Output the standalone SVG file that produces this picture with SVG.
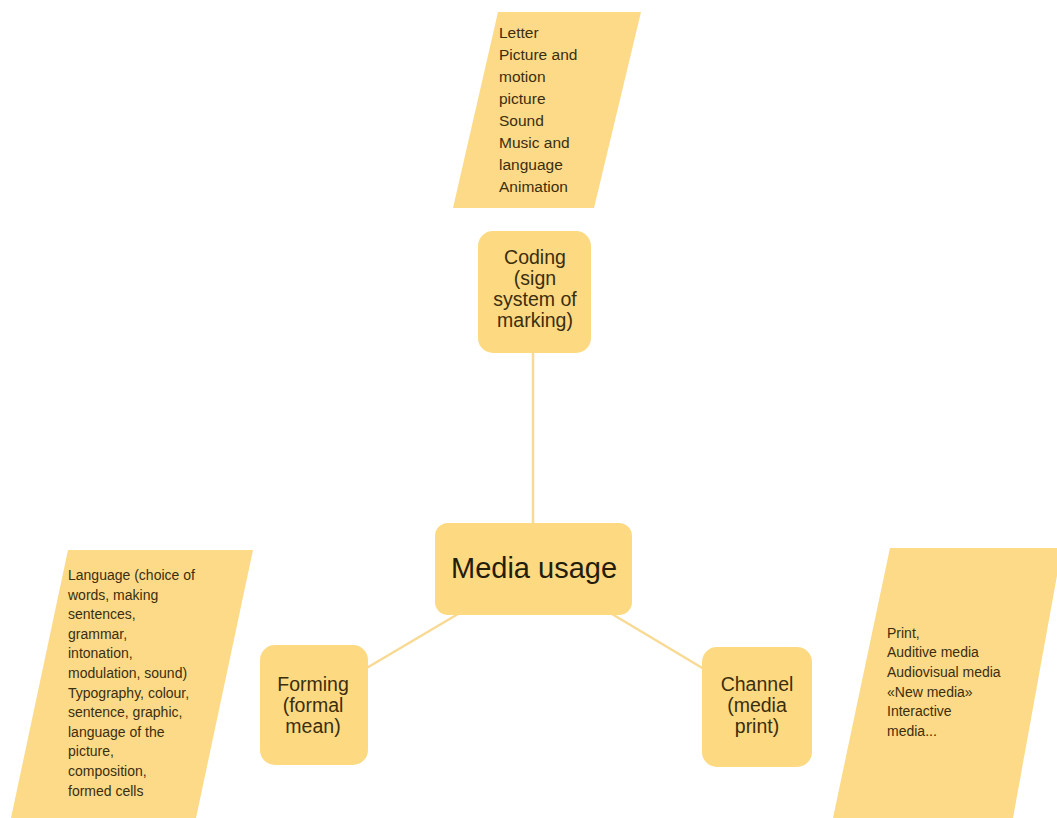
<svg xmlns="http://www.w3.org/2000/svg" width="1057" height="818" viewBox="0 0 1057 818">
  <style>
    .box { fill: #FDD982; }
    .para { fill: #FCDA88; }
    .conn { stroke: #F9DA94; stroke-width: 2.5; fill: none; }
    .lbl { font-family: "Liberation Sans", Arial, sans-serif; font-size: 19.5px; fill: #3b2e0e; text-anchor: middle; }
    .main { font-family: "Liberation Sans", Arial, sans-serif; font-size: 29px; fill: #231d0a; text-anchor: middle; }
    .txt { font-family: "Liberation Sans", Arial, sans-serif; font-size: 14px; fill: #3b2e0e; }
    .txt2 { font-family: "Liberation Sans", Arial, sans-serif; font-size: 15.5px; fill: #3b2e0e; }
  </style>
  <rect width="1057" height="818" fill="#ffffff"/>
  <g id="connectors">
    <line class="conn" x1="533" y1="352" x2="533" y2="524"/>
    <line class="conn" x1="458" y1="614" x2="365" y2="669"/>
    <line class="conn" x1="612" y1="614" x2="704" y2="669"/>
  </g>
  <g id="coding-items">
    <polygon class="para" points="498,12 641,12 594,208 453,208"/>
    <text class="txt2" x="499" y="38">Letter</text>
    <text class="txt2" x="499" y="60">Picture and</text>
    <text class="txt2" x="499" y="82">motion</text>
    <text class="txt2" x="499" y="104">picture</text>
    <text class="txt2" x="499" y="126">Sound</text>
    <text class="txt2" x="499" y="148">Music and</text>
    <text class="txt2" x="499" y="170">language</text>
    <text class="txt2" x="499" y="192">Animation</text>
  </g>
  <g id="coding">
    <rect class="box" x="478" y="231" width="113" height="122" rx="15"/>
    <text class="lbl" x="535" y="264">Coding</text>
    <text class="lbl" x="535" y="285">(sign</text>
    <text class="lbl" x="535" y="306">system of</text>
    <text class="lbl" x="535" y="327">marking)</text>
  </g>
  <g id="media-usage">
    <rect class="box" x="435" y="523" width="197" height="92" rx="13"/>
    <text class="main" x="534" y="578">Media usage</text>
  </g>
  <g id="forming">
    <rect class="box" x="260" y="645" width="108" height="120" rx="15"/>
    <text class="lbl" x="313" y="691">Forming</text>
    <text class="lbl" x="313" y="712">(formal</text>
    <text class="lbl" x="313" y="733">mean)</text>
  </g>
  <g id="channel">
    <rect class="box" x="702" y="647" width="110" height="120" rx="15"/>
    <text class="lbl" x="757" y="691">Channel</text>
    <text class="lbl" x="757" y="712">(media</text>
    <text class="lbl" x="757" y="733">print)</text>
  </g>
  <g id="forming-items">
    <polygon class="para" points="68,550 253,550 196,818 11,818"/>
    <text class="txt" x="68" y="580">Language (choice of</text>
    <text class="txt" x="68" y="599.6">words, making</text>
    <text class="txt" x="68" y="619.2">sentences,</text>
    <text class="txt" x="68" y="638.8">grammar,</text>
    <text class="txt" x="68" y="658.4">intonation,</text>
    <text class="txt" x="68" y="678">modulation, sound)</text>
    <text class="txt" x="68" y="697.6">Typography, colour,</text>
    <text class="txt" x="68" y="717.2">sentence, graphic,</text>
    <text class="txt" x="68" y="736.8">language of the</text>
    <text class="txt" x="68" y="756.4">picture,</text>
    <text class="txt" x="68" y="776">composition,</text>
    <text class="txt" x="68" y="795.6">formed cells</text>
  </g>
  <g id="channel-items">
    <polygon class="para" points="890,548 1062,548 1013,818 833,818"/>
    <text class="txt" x="887" y="638">Print,</text>
    <text class="txt" x="887" y="657">Auditive media</text>
    <text class="txt" x="887" y="677">Audiovisual media</text>
    <text class="txt" x="887" y="697">«New media»</text>
    <text class="txt" x="887" y="716">Interactive</text>
    <text class="txt" x="887" y="736">media...</text>
  </g>
</svg>
